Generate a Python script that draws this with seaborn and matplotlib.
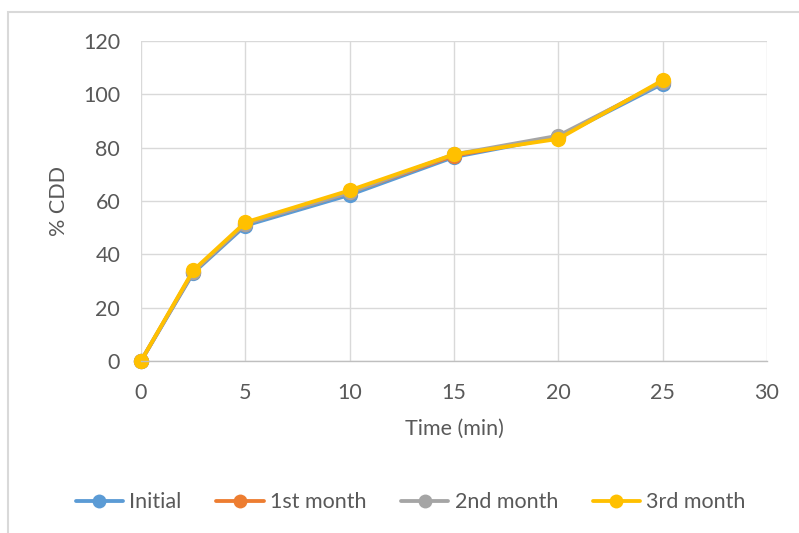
import matplotlib.pyplot as plt
import numpy as np
import pandas as pd
import seaborn as sns
from matplotlib.patches import Rectangle

time_min = [0, 2.5, 5, 10, 15, 20, 25]
initial = [0, 33.0, 50.8, 62.3, 76.5, 84.0, 104.0]
month_1 = [0, 33.5, 51.5, 63.2, 77.0, 84.0, 104.8]
month_2 = [0, 33.5, 51.5, 63.2, 77.5, 84.5, 104.5]
month_3 = [0, 34.0, 52.0, 64.0, 77.5, 83.3, 105.3]

series_names = ["Initial", "1st month", "2nd month", "3rd month"]
series_colors = ["#5B9BD5", "#ED7D31", "#A5A5A5", "#FFC000"]

df = pd.concat(
    [
        pd.DataFrame({"time": time_min, "cdd": vals, "series": name})
        for name, vals in zip(series_names, [initial, month_1, month_2, month_3])
    ],
    ignore_index=True,
)

sns.set_theme(style="white")
plt.rcParams["font.family"] = ["Lato", "DejaVu Sans"]
text_color = "#595959"
fs = 15.5

fig = plt.figure(figsize=(7.99, 5.33), dpi=100)
ax = fig.add_axes([0.1765, 0.3227, 0.7835, 0.6003])

# chart frame like the excel chart area
fig.patches.append(
    Rectangle((8 / 799, -0.1), 1.2, 1 - 12 / 533 + 0.1, transform=fig.transFigure,
              fill=False, edgecolor="#D9D9D9", linewidth=1.5, zorder=0)
)

sns.lineplot(
    data=df, x="time", y="cdd", hue="series", hue_order=series_names,
    palette=series_colors, marker="o", markersize=11, markeredgewidth=0,
    linewidth=2.75, ax=ax, legend=False, clip_on=False,
)

ax.set_xlim(0, 30)
ax.set_ylim(0, 120)
ax.set_xticks(np.arange(0, 31, 5))
ax.set_yticks(np.arange(0, 121, 20))
ax.grid(True, color="#D9D9D9", linewidth=1)
for side in ["top", "right", "left"]:
    ax.spines[side].set_visible(False)
ax.spines["bottom"].set_color("#BFBFBF")
ax.spines["bottom"].set_linewidth(1)
ax.tick_params(axis="both", length=0, labelsize=fs, labelcolor=text_color)
ax.tick_params(axis="x", pad=16)
ax.tick_params(axis="y", pad=15)
ax.set_xlabel("Time (min)", fontsize=fs, color=text_color, labelpad=11)
ax.set_ylabel("% CDD", fontsize=fs, color=text_color, labelpad=10)

handles = [
    plt.Line2D([], [], color=c, marker="o", markersize=10, markeredgewidth=0, linewidth=2.75)
    for c in series_colors
]
fig.legend(
    handles, series_names, loc="center", bbox_to_anchor=(0.514, 0.058), ncol=4,
    frameon=False, fontsize=fs, labelcolor=text_color, handlelength=2.2,
    handletextpad=0.3, columnspacing=1.6,
)

fig.savefig("out.png", dpi=100)
